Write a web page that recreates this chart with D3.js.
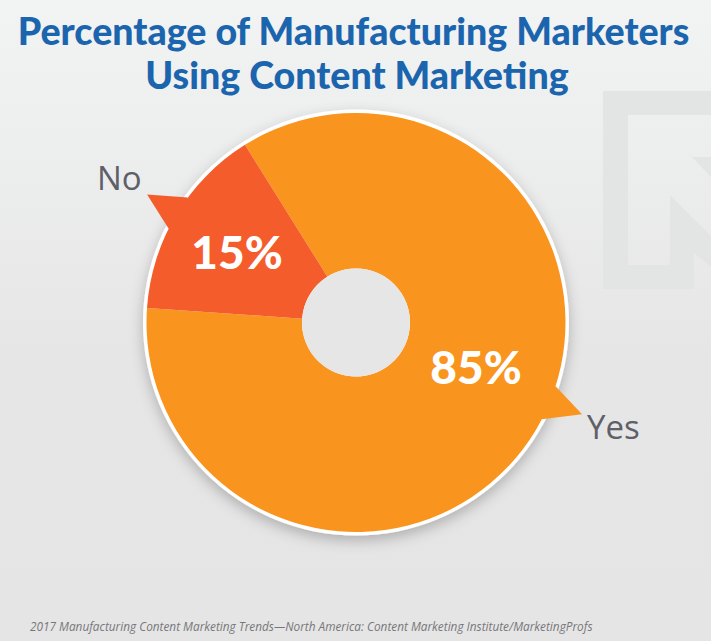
<!DOCTYPE html>
<html lang="en">
<head>
<meta charset="UTF-8">
<title>Manufacturing Content Marketing</title>
<script src="https://d3js.org/d3.v7.min.js"></script>
<style>
    html, body { margin: 0; padding: 0; background: #e5e5e5; }
    svg { display: block; }
    text { font-family: "Open Sans", sans-serif; }
    .heavy { font-family: Lato, sans-serif; font-weight: 900; }
</style>
</head>
<body>
<svg id="chart" width="711" height="641"></svg>
<script>
    // values
    var categories = ["Yes", "No"];
    var shares = [85, 15];
    var shareLabels = ["85%", "15%"];
    var titleLines = ["Percentage of Manufacturing Marketers", "Using Content Marketing"];
    var source = "2017 Manufacturing Content Marketing Trends\u2014North America: Content Marketing Institute/MarketingProfs";

    var colors = d3.scaleOrdinal().domain(categories).range(["#f9951e", "#f55c2b"]);

    var width = 711, height = 641;
    var cx = 356, cy = 322.5, outer = 209.5, hole = 54;
    var rad = Math.PI / 180;

    var svg = d3.select("#chart");
    var defs = svg.append("defs");

    var bg = defs.append("linearGradient").attr("id", "bg")
        .attr("x1", 0).attr("y1", 0).attr("x2", 0).attr("y2", 1);
    bg.append("stop").attr("offset", "0").attr("stop-color", "#f2f3f3");
    bg.append("stop").attr("offset", "0.55").attr("stop-color", "#e6e6e6");
    bg.append("stop").attr("offset", "1").attr("stop-color", "#e5e5e5");

    var shadow = defs.append("filter").attr("id", "shadow")
        .attr("x", "-10%").attr("y", "-10%").attr("width", "120%").attr("height", "120%");
    shadow.append("feDropShadow").attr("dx", 0).attr("dy", 5).attr("stdDeviation", 7)
        .attr("flood-color", "#000").attr("flood-opacity", 0.24);

    svg.append("rect").attr("width", width).attr("height", height).attr("fill", "url(#bg)");

    // watermark logo behind the chart
    svg.append("path")
        .attr("d", "M603,91H711V115H628V265H670V195L711,236V267L694,253V289H603Z")
        .attr("fill", "#e3e4e4");
    svg.append("path")
        .attr("d", "M692,157L711,157V177Z")
        .attr("fill", "#e3e4e4");

    // title
    svg.append("g").selectAll("text")
        .data(titleLines)
        .enter().append("text")
        .attr("class", "heavy")
        .attr("x", function (d, i) { return i ? 357 : 353.5; })
        .attr("y", function (d, i) { return 45 + i * 44; })
        .attr("text-anchor", "middle")
        .attr("font-size", 37.6)
        .attr("fill", "#1b65ae")
        .text(function (d) { return d; });

    // pie starts at the Yes/No boundary and runs clockwise
    var pie = d3.pie().sort(null).value(function (d) { return d; })
        .startAngle(-32 * rad).endAngle(328 * rad);
    var arcs = pie(shares);
    var arc = d3.arc().innerRadius(hole).outerRadius(outer);

    var chart = svg.append("g").attr("transform", "translate(" + cx + "," + cy + ")");

    // white rim with drop shadow
    chart.append("circle").attr("r", outer + 3.5).attr("fill", "#fff")
        .attr("filter", "url(#shadow)");

    chart.selectAll("path.slice")
        .data(arcs)
        .enter().append("path")
        .attr("class", "slice")
        .attr("d", arc)
        .attr("fill", function (d, i) { return colors(categories[i]); });

    // hole shows the background through a grey disc
    chart.append("circle").attr("r", hole).attr("fill", "#e6e6e6");

    // callout pointers: base angles on the rim and the tip beyond it (degrees from top)
    var pointers = [
        { a0: 107.7, a1: 117.5, tip: 112.1, tipR: 244 },
        { a0: -63.4, a1: -53.4, tip: -58.5, tipR: 245 }
    ];
    chart.selectAll("path.pointer")
        .data(pointers)
        .enter().append("path")
        .attr("class", "pointer")
        .attr("d", function (d) {
            return d3.line()([
                d3.pointRadial(d.a0 * rad, outer),
                d3.pointRadial(d.tip * rad, d.tipR),
                d3.pointRadial(d.a1 * rad, outer),
                d3.pointRadial((d.a0 + d.a1) / 2 * rad, outer - 8)
            ]) + "Z";
        })
        .attr("fill", function (d, i) { return colors(categories[i]); });

    // percentage labels inside the slices
    var labelPos = [[120, 61], [-119, -54]];
    chart.selectAll("text.share")
        .data(shareLabels)
        .enter().append("text")
        .attr("class", "share heavy")
        .attr("x", function (d, i) { return labelPos[i][0]; })
        .attr("y", function (d, i) { return labelPos[i][1]; })
        .attr("text-anchor", "middle")
        .attr("font-size", 46)
        .attr("fill", "#fff")
        .text(function (d) { return d; });

    // category labels next to the pointers
    var catPos = [[587, 439], [97, 190]];
    svg.selectAll("text.cat")
        .data(categories)
        .enter().append("text")
        .attr("class", "cat")
        .attr("x", function (d, i) { return catPos[i][0]; })
        .attr("y", function (d, i) { return catPos[i][1]; })
        .attr("font-size", 33)
        .attr("fill", "#5e6068")
        .text(function (d) { return d; });

    svg.append("text")
        .attr("x", 30)
        .attr("y", 631)
        .attr("font-size", 11.8)
        .attr("font-style", "italic")
        .attr("fill", "#77777a")
        .text(source);
</script>
</body>
</html>
